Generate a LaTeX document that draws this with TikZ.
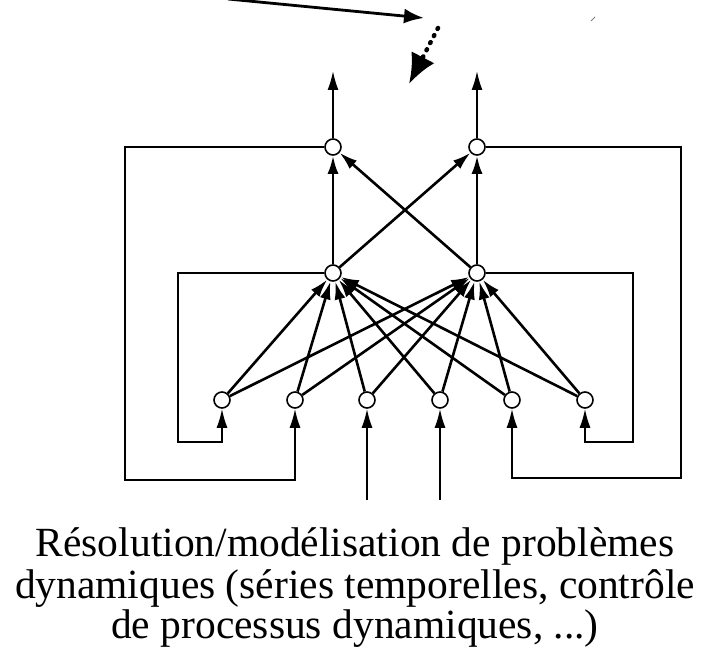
\documentclass[tikz,border=0pt]{standalone}
\usepackage{fontspec}
\setmainfont{Liberation Serif}
\usetikzlibrary{arrows.meta}
\begin{document}
\begin{tikzpicture}[x=1pt,y=-1pt,
 neuron/.style={circle,draw,line width=1.6pt,fill=white,minimum size=16pt,inner sep=0pt},
 fb/.style={line width=1.8pt,-{Latex[length=19pt,width=11pt]}},
 conn/.style={line width=2.6pt,-{Latex[length=18pt,width=11pt]}},
 thinarr/.style={line width=1.8pt,-{Latex[length=19pt,width=11pt]}},
 lbl/.style={font=\fontsize{41.5}{43}\selectfont,anchor=base,inner sep=0pt}]
\useasboundingbox (0,0) rectangle (704,650);
% neurons
\node[neuron] (o1) at (333,147) {};
\node[neuron] (o2) at (477,147) {};
\node[neuron] (h1) at (333,273) {};
\node[neuron] (h2) at (477,273) {};
\foreach \i/\x in {1/222,2/295,3/367,4/440,5/512,6/585}
  \node[neuron] (i\i) at (\x,400) {};
% outputs
\coordinate (out1) at (333,71);
\coordinate (out2) at (477,71);
\draw[thinarr] (o1.north) -- (out1);
\draw[thinarr] (o2.north) -- (out2);
% hidden to output
\draw[conn] (h1) -- (o1);
\draw[conn] (h2) -- (o2);
\draw[conn] (h1) -- (o2);
\draw[conn] (h2) -- (o1);
% input to hidden
\foreach \i in {1,...,6}{
  \draw[conn] (i\i) -- (h1);
  \draw[conn] (i\i) -- (h2);
}
% external inputs
\coordinate (in3) at (367,500);
\coordinate (in4) at (440,500);
\draw[thinarr] (in3) -- (i3.south);
\draw[thinarr] (in4) -- (i4.south);
% feedback loops
\draw[fb] (o1.west) -| (125,480) -| (i2.south);
\draw[fb] (h1.west) -| (178,442) -| (i1.south);
\draw[fb] (h2.east) -| (633,442) -| (i6.south);
\draw[fb] (o2.east) -| (681,478) -| (i5.south);
% top arrows
\coordinate (sa) at (228,-1);
\coordinate (sb) at (424,18);
\draw[line width=2.8pt,-{Latex[length=20pt,width=15pt]}] (sa) -- (sb);
\coordinate (da) at (438,28);
\coordinate (db) at (409,84);
\draw[line width=4.5pt,line cap=round,dash pattern=on 1pt off 7pt,-{Latex[length=30pt,width=26pt]}] (da) -- (db);
\coordinate (ma) at (591,21);
\coordinate (mb) at (595,17);
\draw[gray,line width=1pt] (ma) -- (mb);
% text
\node[lbl] (t1) at (355,556) {Résolution/modélisation de problèmes};
\node[lbl] (t2) at (355,598) {dynamiques (séries temporelles, contrôle};
\node[lbl] (t3) at (355,638) {de processus dynamiques, ...)};
\end{tikzpicture}
\end{document}
